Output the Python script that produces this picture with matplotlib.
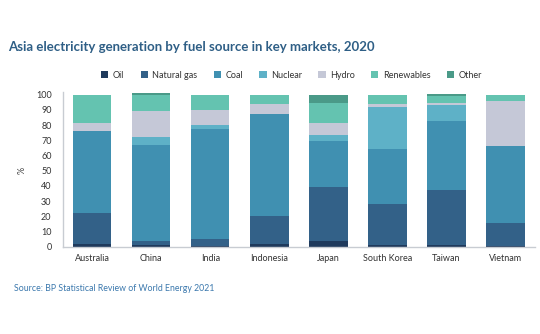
import numpy as np
import matplotlib
matplotlib.use("Agg")
import matplotlib.pyplot as plt

plt.rcParams['font.family'] = ['Lato', 'DejaVu Sans']

countries = ["Australia", "China", "India", "Indonesia", "Japan",
             "South Korea", "Taiwan", "Vietnam"]
fuels = ["Oil", "Natural gas", "Coal", "Nuclear", "Hydro", "Renewables", "Other"]

# share of generation, %
oil        = [2.0, 1.0, 0.5, 2.0, 4.0, 1.0, 1.0, 0.5]
gas        = [20.0, 3.0, 4.5, 18.5, 35.0, 27.0, 36.0, 15.0]
coal       = [54.0, 63.0, 72.5, 67.0, 30.5, 36.0, 45.5, 51.0]
nuclear    = [0.0, 5.0, 2.5, 0.0, 4.0, 28.0, 10.5, 0.0]
hydro      = [5.0, 17.0, 10.0, 6.5, 8.0, 1.5, 1.5, 29.0]
renewables = [19.0, 11.0, 10.0, 6.0, 13.0, 6.5, 4.5, 4.5]
other      = [0.0, 1.0, 0.0, 0.0, 5.5, 0.0, 1.5, 0.0]

colors = ["#1f3a5c", "#336188", "#4090b1", "#5eb1c7", "#c5c8d7", "#64c3b0", "#4a9a88"]

series = [oil, gas, coal, nuclear, hydro, renewables, other]

fig = plt.figure(figsize=(5.4, 3.34), dpi=100)
ax = fig.add_axes([0.116, 0.261, 0.875, 0.465])

x = np.arange(len(countries))
bottom = np.zeros(len(countries))
for name, vals, c in zip(fuels, series, colors):
    ax.bar(x, vals, width=0.65, bottom=bottom, color=c, label=name, linewidth=0)
    bottom += np.array(vals)

ax.set_xlim(-0.5, 7.5)
ax.set_ylim(0, 102)
ax.set_yticks(range(0, 101, 10))
ax.set_xticks(x)
ax.set_xticklabels(countries)
ax.tick_params(axis='both', length=0, labelsize=6.5, colors="#333333")
ax.tick_params(axis='y', pad=8)
ax.tick_params(axis='x', pad=5)
for s in ["top", "right"]:
    ax.spines[s].set_visible(False)
for s in ["left", "bottom"]:
    ax.spines[s].set_color("#c8ccd2")
    ax.spines[s].set_linewidth(1.0)

fig.text(0.041, 0.49, "%", rotation=90, fontsize=6.5, color="#444444",
         ha="center", va="center")

fig.text(0.015, 0.858, "Asia electricity generation by fuel source in key markets, 2020",
         fontsize=9.5, fontweight="bold", color="#2f5f86", ha="left", va="center")

ax.legend(loc="center", bbox_to_anchor=(0.54, 0.775), bbox_transform=fig.transFigure,
          ncol=7, frameon=False, fontsize=6.5, handlelength=0.8, handleheight=0.7,
          handletextpad=0.5, columnspacing=1.8, labelcolor="#333333")

fig.text(0.026, 0.137, "Source: BP Statistical Review of World Energy 2021",
         fontsize=6.3, color="#3b78ad", ha="left", va="center")

fig.savefig("out.png", dpi=100)
